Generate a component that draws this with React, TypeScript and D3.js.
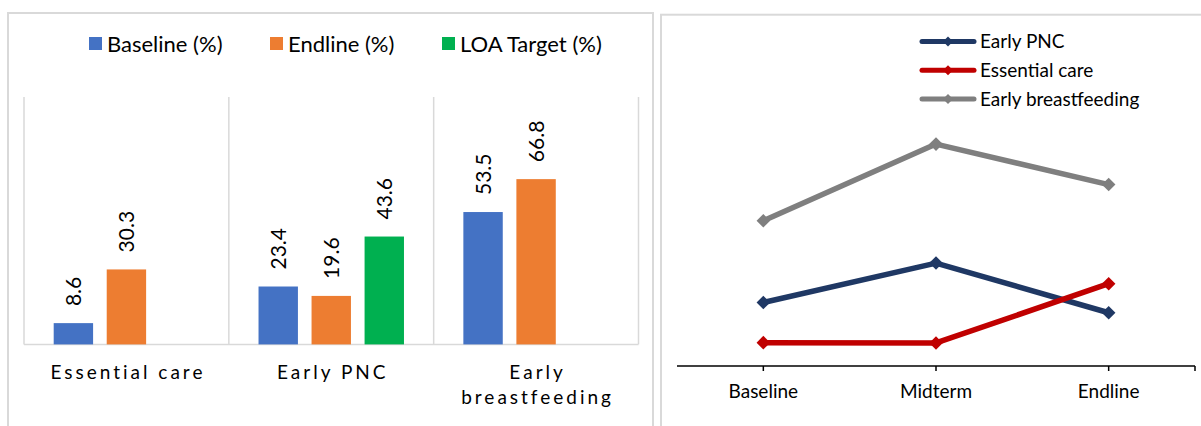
import React, { useEffect, useRef } from 'react';
import * as d3 from 'd3';

// ---------- data: left (bar) chart ----------
const barCategories = ['Essential care', 'Early PNC', 'Early breastfeeding'];
const barSeries = ['Baseline (%)', 'Endline (%)', 'LOA Target (%)'];
const baselineValues: (number | null)[] = [8.6, 23.4, 53.5];
const endlineValues: (number | null)[] = [30.3, 19.6, 66.8];
const loaTargetValues: (number | null)[] = [null, 43.6, null];
const barColors = ['#4472C4', '#ED7D31', '#00B050'];

// ---------- data: right (line) chart ----------
const rounds = ['Baseline', 'Midterm', 'Endline'];
const lineSeries = ['Early PNC', 'Essential care', 'Early breastfeeding'];
const earlyPNCValues = [23.4, 37.9, 19.6];
const essentialCareValues = [8.6, 8.5, 30.3];
const earlyBreastfeedingValues = [53.5, 81.7, 66.8];
const lineColors = ['#1F3864', '#C00000', '#7F7F7F'];

const W = 1201;
const H = 426;
const FONT = 'Lato, "Open Sans", sans-serif';
const GRID = '#D9D9D9';

export default function App() {
  const ref = useRef<SVGSVGElement | null>(null);

  useEffect(() => {
    const svg = d3.select(ref.current);
    svg.selectAll('*').remove();

    // ================= LEFT PANEL =================
    const left = svg.append('g');
    left.append('rect')
      .attr('x', 8).attr('y', 13).attr('width', 645).attr('height', 440)
      .attr('fill', '#fff').attr('stroke', GRID).attr('stroke-width', 2);

    const plotL = 24, plotR = 638.5, plotT = 97, plotB = 344.4;
    const x0 = d3.scaleBand<string>().domain(barCategories).range([plotL, plotR]).padding(0);
    const x1 = d3.scaleBand<string>().domain(barSeries).range([0, x0.bandwidth()])
      .paddingInner(0.257).paddingOuter(0.56);
    const y = d3.scaleLinear().domain([0, 100]).range([plotB, plotT]);

    // legend
    const legendX = [89, 270, 442];
    const lg = left.append('g');
    barSeries.forEach((s, i) => {
      lg.append('rect').attr('x', legendX[i]).attr('y', 37).attr('width', 13).attr('height', 13)
        .attr('fill', barColors[i]);
      lg.append('text').attr('x', legendX[i] + 18).attr('y', 51.5)
        .attr('font-family', FONT).attr('font-size', 22).attr('fill', '#000').text(s);
    });

    // vertical gridlines at category boundaries
    const bounds = barCategories.map((c) => x0(c)!).concat([plotR]);
    left.append('g').selectAll('line').data(bounds).join('line')
      .attr('x1', (d) => d).attr('x2', (d) => d)
      .attr('y1', plotT).attr('y2', plotB)
      .attr('stroke', GRID).attr('stroke-width', 1.5);
    // category axis
    left.append('line').attr('x1', plotL).attr('x2', plotR).attr('y1', plotB).attr('y2', plotB)
      .attr('stroke', GRID).attr('stroke-width', 1.5);

    const seriesValues = [baselineValues, endlineValues, loaTargetValues];
    const bars: { cat: string; ser: string; v: number; color: string }[] = [];
    barCategories.forEach((c, ci) => {
      barSeries.forEach((s, si) => {
        const v = seriesValues[si][ci];
        if (v != null) bars.push({ cat: c, ser: s, v, color: barColors[si] });
      });
    });

    left.append('g').selectAll('rect').data(bars).join('rect')
      .attr('x', (d) => x0(d.cat)! + x1(d.ser)!)
      .attr('y', (d) => y(d.v))
      .attr('width', x1.bandwidth())
      .attr('height', (d) => plotB - y(d.v))
      .attr('fill', (d) => d.color);

    left.append('g').selectAll('text').data(bars).join('text')
      .attr('transform', (d) => {
        const cx = x0(d.cat)! + x1(d.ser)! + x1.bandwidth() / 2;
        return `translate(${cx},${y(d.v) - 17}) rotate(-90)`;
      })
      .attr('dy', '0.36em')
      .attr('text-anchor', 'start')
      .attr('font-family', FONT).attr('font-size', 21).attr('fill', '#000')
      .text((d) => d.v.toFixed(1));

    // category labels (wrapped when too long)
    const catFont = 19;
    const spacing = 3;
    barCategories.forEach((c) => {
      const cx = x0(c)! + x0.bandwidth() / 2;
      const est = c.length * (catFont * 0.5 + spacing);
      const lines = est > x0.bandwidth() - 10 ? c.split(' ') : [c];
      const t = left.append('text')
        .attr('font-family', FONT).attr('font-size', catFont).attr('fill', '#000')
        .attr('letter-spacing', spacing).attr('text-anchor', 'middle');
      lines.forEach((ln, i) => {
        t.append('tspan').attr('x', cx + spacing / 2).attr('y', 378.5 + i * 25).text(ln);
      });
    });

    // ================= RIGHT PANEL =================
    const right = svg.append('g');
    right.append('rect')
      .attr('x', 661).attr('y', 14.7).attr('width', 600).attr('height', 440)
      .attr('fill', '#fff').attr('stroke', GRID).attr('stroke-width', 2);

    const rL = 677, rR = 1195, rB = 366;
    const xr = d3.scaleBand<string>().domain(rounds).range([rL, rR]);
    const xc = (r: string) => xr(r)! + xr.bandwidth() / 2;
    const yr = d3.scaleLinear().domain([0, 90]).range([rB, rB - 90 * 2.716]);

    const lineData = [earlyPNCValues, essentialCareValues, earlyBreastfeedingValues];
    const lineGen = d3.line<number>().x((_, i) => xc(rounds[i])).y((d) => yr(d));
    const diamond = d3.symbol().type(d3.symbolSquare).size(92);

    const order = [2, 0, 1];
    order.forEach((si) => {
      const g = right.append('g');
      g.append('path').datum(lineData[si]).attr('d', lineGen)
        .attr('fill', 'none').attr('stroke', lineColors[si]).attr('stroke-width', 5.5)
        .attr('stroke-linejoin', 'round');
      g.selectAll('path.m').data(lineData[si]).join('path').attr('class', 'm')
        .attr('d', diamond)
        .attr('transform', (d, i) => `translate(${xc(rounds[i])},${yr(d)}) rotate(45)`)
        .attr('fill', lineColors[si]);
    });

    // axis
    right.append('line').attr('x1', rL).attr('x2', rR).attr('y1', rB).attr('y2', rB)
      .attr('stroke', '#000').attr('stroke-width', 1.5);
    const ticks = rounds.map(xc).concat([rR]);
    right.append('g').selectAll('line').data(ticks).join('line')
      .attr('x1', (d) => d).attr('x2', (d) => d).attr('y1', rB).attr('y2', rB + 5)
      .attr('stroke', '#000').attr('stroke-width', 1.5);
    right.append('g').selectAll('text').data(rounds).join('text')
      .attr('x', (d) => xc(d)).attr('y', 398)
      .attr('text-anchor', 'middle')
      .attr('font-family', FONT).attr('font-size', 19).attr('fill', '#000')
      .text((d) => d);

    // legend
    const legY = [41.4, 70.2, 99];
    lineSeries.forEach((s, i) => {
      const g = right.append('g');
      g.append('line').attr('x1', 922).attr('x2', 974).attr('y1', legY[i]).attr('y2', legY[i])
        .attr('stroke', lineColors[i]).attr('stroke-width', 5).attr('stroke-linecap', 'round');
      g.append('path').attr('d', d3.symbol().type(d3.symbolSquare).size(50)())
        .attr('transform', `translate(948,${legY[i]}) rotate(45)`).attr('fill', lineColors[i]);
      g.append('text').attr('x', 980).attr('y', legY[i]).attr('dy', '0.36em')
        .attr('font-family', FONT).attr('font-size', 19).attr('fill', '#000').text(s);
    });
  }, []);

  return (
    <svg
      ref={ref}
      width={W}
      height={H}
      style={{ position: 'absolute', left: 0, top: 0, background: '#fff' }}
    />
  );
}
